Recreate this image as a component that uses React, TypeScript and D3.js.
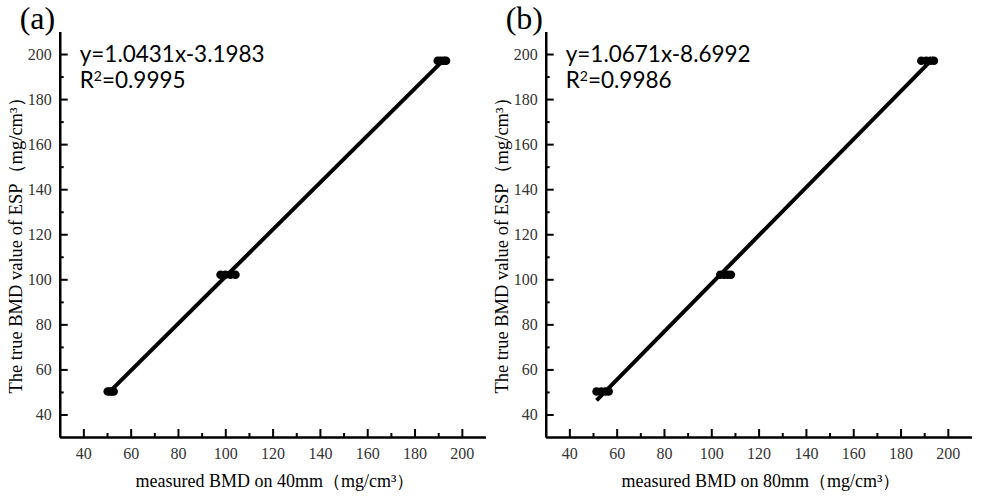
import React, { useEffect, useRef } from 'react';
import * as d3 from 'd3';

// measured BMD (x) at each ESP insert, and the insert's true BMD (y)
const trueBMD = [50.2, 102, 197];

const measured40 = [
  [50.3, 51.2, 52.0, 52.8],
  [98.0, 100.0, 102.2, 104.3],
  [189.8, 191.0, 192.2, 193.3]
];

const measured80 = [
  [51.5, 53.5, 55.2, 56.6],
  [103.8, 105.5, 107.0, 108.3],
  [188.8, 190.8, 192.6, 194.1]
];

const fit40 = { slope: 1.0431, intercept: -3.1983, r2: '0.9995' };
const fit80 = { slope: 1.0671, intercept: -8.6992, r2: '0.9986' };

const majorTicks = [40, 60, 80, 100, 120, 140, 160, 180, 200];
const minorTicks = [50, 70, 90, 110, 130, 150, 170, 190];

const panels = [
  { tag: '(a)', data: measured40, fit: fit40, xLabel: 'measured BMD on 40mm（mg/cm³）', left: 59.7 },
  { tag: '(b)', data: measured80, fit: fit80, xLabel: 'measured BMD on 80mm（mg/cm³）', left: 545.7 }
];

const SERIF = 'Liberation Serif, DejaVu Serif, serif';
const SANS = 'Lato, Noto Sans, sans-serif';

const styleTicks = (sel: any) => {
  sel.attr('font-family', SERIF).attr('font-size', 16);
  sel.selectAll('text')
    .attr('font-family', SERIF)
    .attr('font-size', 16)
    .attr('fill', '#333');
};

const App = () => {
  const ref = useRef<SVGSVGElement>(null);

  useEffect(() => {
    const svg = d3.select(ref.current);
    svg.selectAll('*').remove();

    const top = 31.5;
    const bottom = 437;
    const plotW = 425.8;

    panels.forEach(p => {
      const x = d3.scaleLinear().domain([30, 210]).range([p.left, p.left + plotW]);
      const y = d3.scaleLinear().domain([30, 210]).range([bottom, top]);
      const g = svg.append('g');

      // axes: major ticks point inward, minor ticks are half length
      g.append('g')
        .attr('transform', `translate(0,${bottom})`)
        .call(d3.axisBottom(x).tickValues(majorTicks).tickSizeInner(-8).tickSizeOuter(0).tickPadding(11))
        .call(styleTicks);
      g.append('g')
        .attr('transform', `translate(0,${bottom})`)
        .call(d3.axisBottom(x).tickValues(minorTicks).tickSizeInner(-4).tickSizeOuter(0).tickFormat(() => ''));
      g.append('g')
        .attr('transform', `translate(${p.left},0)`)
        .call(d3.axisLeft(y).tickValues(majorTicks).tickSizeInner(-8).tickSizeOuter(0).tickPadding(8))
        .call(styleTicks);
      g.append('g')
        .attr('transform', `translate(${p.left},0)`)
        .call(d3.axisLeft(y).tickValues(minorTicks).tickSizeInner(-4).tickSizeOuter(0).tickFormat(() => ''));

      g.selectAll('.domain').attr('stroke', '#000').attr('stroke-width', 2.2);
      g.selectAll('.tick line').attr('stroke', '#000').attr('stroke-width', 2);

      // fitted regression line across the measured range
      const allX = p.data.flat();
      const [x0, x1] = d3.extent(allX) as [number, number];
      const line = d3.line<number>()
        .x(d => x(d))
        .y(d => y(p.fit.slope * d + p.fit.intercept));
      g.append('path')
        .datum([x0, x1])
        .attr('d', line)
        .attr('fill', 'none')
        .attr('stroke', '#000')
        .attr('stroke-width', 4);

      // scatter points
      const pts = p.data.flatMap((row, i) => row.map(v => ({ x: v, y: trueBMD[i] })));
      g.selectAll('circle.pt')
        .data(pts)
        .enter().append('circle')
        .attr('class', 'pt')
        .attr('cx', d => x(d.x))
        .attr('cy', d => y(d.y))
        .attr('r', 4.3)
        .attr('fill', '#000');

      // equation and R²
      g.append('text')
        .attr('x', p.left + 20)
        .attr('y', 61.5)
        .attr('font-family', SANS)
        .attr('font-size', 22.5)
        .attr('fill', '#000')
        .text(`y=${p.fit.slope}x-${Math.abs(p.fit.intercept)}`);
      const r2 = g.append('text')
        .attr('x', p.left + 20)
        .attr('y', 88)
        .attr('font-family', SANS)
        .attr('font-size', 22.5)
        .attr('fill', '#000');
      r2.append('tspan').text('R');
      r2.append('tspan').attr('dy', -7).attr('font-size', 14).text('2');
      r2.append('tspan').attr('dy', 7).text(`=${p.fit.r2}`);

      // panel tag
      g.append('text')
        .attr('x', p.left - 40)
        .attr('y', 29)
        .attr('font-family', SERIF)
        .attr('font-size', 32)
        .attr('fill', '#000')
        .text(p.tag);

      // axis titles
      g.append('text')
        .attr('x', x(121))
        .attr('y', 487)
        .attr('text-anchor', 'middle')
        .attr('font-family', SERIF)
        .attr('font-size', 18)
        .attr('fill', '#000')
        .text(p.xLabel);
      g.append('text')
        .attr('transform', `translate(${p.left - 38},${y(117)}) rotate(-90)`)
        .attr('text-anchor', 'middle')
        .attr('font-family', SERIF)
        .attr('font-size', 18.5)
        .attr('fill', '#000')
        .text('The true BMD value of ESP（mg/cm³）');
    });
  }, []);

  return (
    <svg
      ref={ref}
      width={982}
      height={500}
      style={{ position: 'absolute', left: 0, top: 0, background: '#fff' }}
    />
  );
};

export default App;
